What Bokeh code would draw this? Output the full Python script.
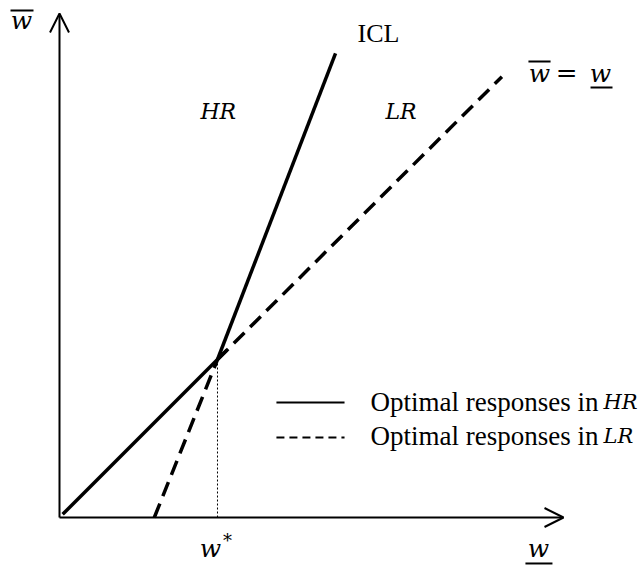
from bokeh.plotting import figure
from bokeh.models import Arrow, OpenHead, Range1d
from bokeh.core.properties import value
from bokeh.embed import file_html
from bokeh.resources import INLINE

# ---- data (units chosen so that w* = 1) ----
hr_diag_x = [0.02, 1.06]
hr_diag_y = [0.02, 1.06]
hr_icl_x = [1.0, 1.747]
hr_icl_y = [1.0, 2.937]
lr_icl_x = [0.60, 1.0]
lr_icl_y = [0.0, 1.0]
lr_diag_x = [1.0, 2.80]
lr_diag_y = [1.0, 2.79]
w_star = 1.0
axis_end = 3.19

legend_labels = ["Optimal responses in", "Optimal responses in"]
legend_regimes = ["HR", "LR"]

SERIF = value("Liberation Serif")
MATH = value("DejaVu Serif")

p = figure(width=640, height=569, output_backend="svg", toolbar_location=None,
           x_range=Range1d(-0.37342, 3.67722), y_range=Range1d(-0.32911, 3.27215),
           x_axis_location=None, y_axis_location=None, min_border=0,
           outline_line_color=None)
p.grid.visible = False

# axes with open arrow heads
p.add_layout(Arrow(x_start=0, y_start=0, x_end=axis_end, y_end=0, line_width=2,
                   end=OpenHead(size=19, line_width=2)))
p.add_layout(Arrow(x_start=0, y_start=0, x_end=0, y_end=axis_end, line_width=2,
                   end=OpenHead(size=19, line_width=2)))

# optimal responses
p.line(hr_diag_x, hr_diag_y, line_width=3.5, line_color="black")
p.line(hr_icl_x, hr_icl_y, line_width=3.5, line_color="black")
p.line(lr_icl_x, lr_icl_y, line_width=3.5, line_color="black", line_dash="15 8")
p.line(lr_diag_x, lr_diag_y, line_width=3.5, line_color="black", line_dash="15 8")

# dotted guide at w*
p.segment(x0=[w_star], y0=[0], x1=[w_star], y1=[1.0], line_width=1,
          line_color="black", line_dash="2 2")

# labels
p.text(x=[1.886], y=[3.065], text=["ICL"], text_font=SERIF, text_font_size="26px",
       text_baseline="alphabetic")
p.text(x=[0.892, 2.063], y=[2.570, 2.570], text=["HR", "LR"], text_font=MATH,
       text_font_style="italic", text_font_size="22px", text_baseline="alphabetic")

# axis names: w-bar (top left), w-underline (bottom right), w* below axis
p.text(x=[-0.2405], y=[3.1456], text=["w"], text_font=MATH, text_font_style="italic",
       text_font_size="25px", text_align="center", text_baseline="alphabetic")
p.segment(x0=[-0.310], y0=[3.2089], x1=[-0.1646], y1=[3.2089], line_width=2, line_color="black")

p.text(x=[3.032], y=[-0.196], text=["w"], text_font=MATH, text_font_style="italic",
       text_font_size="25px", text_align="center", text_baseline="alphabetic")
p.segment(x0=[2.949], y0=[-0.291], x1=[3.120], y1=[-0.291], line_width=2, line_color="black")

p.text(x=[0.956], y=[-0.196], text=["w"], text_font=MATH, text_font_style="italic",
       text_font_size="25px", text_align="center", text_baseline="alphabetic")
p.text(x=[1.063], y=[-0.146], text=["*"], text_font=MATH, text_font_size="18px",
       text_align="center", text_baseline="middle")

# w-bar = w-underline label
p.text(x=[3.038], y=[2.810], text=["w"], text_font=MATH, text_font_style="italic",
       text_font_size="25px", text_align="center", text_baseline="alphabetic")
p.segment(x0=[2.968], y0=[2.886], x1=[3.108], y1=[2.886], line_width=2, line_color="black")
p.text(x=[3.209], y=[2.816], text=["="], text_font=MATH, text_font_size="26px",
       text_align="center", text_baseline="middle")
p.text(x=[3.424], y=[2.810], text=["w"], text_font=MATH, text_font_style="italic",
       text_font_size="25px", text_align="center", text_baseline="alphabetic")
p.segment(x0=[3.361], y0=[2.722], x1=[3.500], y1=[2.722], line_width=2, line_color="black")

# legend (drawn by hand to keep the italic regime names)
p.segment(x0=[1.373], y0=[0.728], x1=[1.804], y1=[0.728], line_width=2, line_color="black")
p.segment(x0=[1.373], y0=[0.506], x1=[1.804], y1=[0.506], line_width=2, line_color="black",
          line_dash="8 5")
p.text(x=[1.968, 1.968], y=[0.734, 0.513], text=legend_labels, text_font=SERIF,
       text_font_size="27px", text_baseline="alphabetic")
p.text(x=[3.443, 3.443], y=[0.734, 0.513], text=legend_regimes, text_font=MATH,
       text_font_style="italic", text_font_size="21px", text_baseline="alphabetic")

open("out.html", "w").write(file_html(p, INLINE))
